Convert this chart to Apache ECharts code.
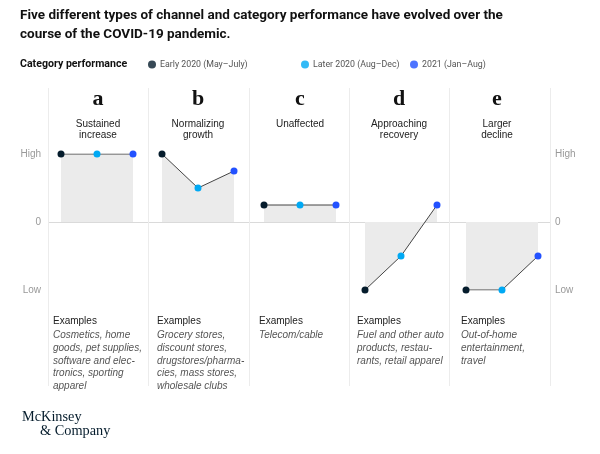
<!DOCTYPE html>
<html><head><meta charset="utf-8">
<script src="https://cdn.jsdelivr.net/npm/echarts@6/dist/echarts.min.js"></script>
<style>html,body{margin:0;padding:0;background:#fff}#c{width:600px;height:454px}</style>
</head><body><div id="c"></div><script>
// ---- data ----
const titleText = 'Five different types of channel and category performance have evolved over the\ncourse of the COVID-19 pandemic.';
const legendTitle = 'Category performance';
const periods = ['Early 2020 (May–July)', 'Later 2020 (Aug–Dec)', '2021 (Jan–Aug)'];
const periodColors = ['#051c2c', '#00a9f4', '#2251ff'];
const panelLetters = ['a', 'b', 'c', 'd', 'e'];
const panelTitles = ['Sustained\nincrease', 'Normalizing\ngrowth', 'Unaffected', 'Approaching\nrecovery', 'Larger\ndecline'];
const valuesA = [1, 1, 1];
const valuesB = [1, 0.5, 0.75];
const valuesC = [0.25, 0.25, 0.25];
const valuesD = [-1, -0.5, 0.25];
const valuesE = [-1, -1, -0.5];
const panelValues = [valuesA, valuesB, valuesC, valuesD, valuesE];
const yTickLabels = { '-1': 'Low', '0': '0', '1': 'High' };
const examplesLabel = 'Examples';
const examplesText = [
  'Cosmetics, home\ngoods, pet supplies,\nsoftware and elec-\ntronics, sporting\napparel',
  'Grocery stores,\ndiscount stores,\ndrugstores/pharma-\ncies, mass stores,\nwholesale clubs',
  'Telecom/cable',
  'Fuel and other auto\nproducts, restau-\nrants, retail apparel',
  'Out-of-home\nentertainment,\ntravel'
];
const logoLines = ['McKinsey', '& Company'];

// ---- layout ----
const SANS = '"Liberation Sans", Arial, sans-serif';
const ROBO = 'Roboto, "Liberation Sans", sans-serif';
const SERIF = '"Liberation Serif", "DejaVu Serif", serif';
const plotL = 48, plotR = 550;
const zeroTop = 154, zeroBottom = 290; // High / Low rows
const pointStart = [61, 162, 264, 365, 466];
const headerX = [98, 198, 300, 399, 497];
const exampleX = [53, 157, 259, 357, 461];

const chart = echarts.init(document.getElementById('c'), null, { renderer: 'canvas' });

const grids = [
  { left: plotL, width: plotR - plotL, top: 88, height: 298 },
  { left: plotL, width: plotR - plotL, top: zeroTop, height: zeroBottom - zeroTop }
];
const xAxes = [
  { gridIndex: 0, type: 'value', min: 0, max: 5, interval: 1, show: true,
    axisLine: { show: false }, axisTick: { show: false }, axisLabel: { show: false },
    splitLine: { show: true, lineStyle: { color: '#ececec', width: 1 } } },
  { gridIndex: 1, type: 'value', min: 0, max: 1, show: false }
];
const yAxes = [
  { gridIndex: 0, type: 'value', min: 0, max: 1, show: false },
  { gridIndex: 1, type: 'value', min: -1, max: 1, interval: 1, position: 'left',
    axisLine: { show: false }, axisTick: { show: false },
    axisLabel: { margin: 7, color: '#999', fontSize: 10, fontFamily: SANS, formatter: v => yTickLabels[String(v)] },
    splitLine: { show: true, lineStyle: { color: ['rgba(0,0,0,0)', '#dadada', 'rgba(0,0,0,0)'], width: 1 } } },
  { gridIndex: 1, type: 'value', min: -1, max: 1, interval: 1, position: 'right',
    axisLine: { show: false }, axisTick: { show: false },
    axisLabel: { margin: 5, color: '#999', fontSize: 10, fontFamily: SANS, formatter: v => yTickLabels[String(v)] },
    splitLine: { show: false } }
];
const series = [];
periods.forEach((p, i) => {
  series.push({ name: p, type: 'scatter', xAxisIndex: 0, yAxisIndex: 0, data: [], itemStyle: { color: periodColors[i] } });
});
const graphic = [];
panelValues.forEach((vals, i) => {
  grids.push({ left: pointStart[i], width: 72, top: zeroTop, height: zeroBottom - zeroTop });
  xAxes.push({ gridIndex: i + 2, type: 'category', data: periods, boundaryGap: false, show: false });
  yAxes.push({ gridIndex: i + 2, type: 'value', min: -1, max: 1, show: false });
  series.push({
    type: 'line', xAxisIndex: i + 2, yAxisIndex: i + 3,
    data: vals.map((v, j) => ({ value: v, itemStyle: { color: periodColors[j] } })),
    symbol: 'circle', symbolSize: 7, showSymbol: true,
    lineStyle: { color: '#444', width: 1 },
    areaStyle: { color: '#ebebeb', opacity: 1, origin: 0 },
    z: 3
  });
  const cx = headerX[i];
  graphic.push({ type: 'text', style: { text: panelLetters[i], x: cx, y: 99, align: 'center', verticalAlign: 'middle', font: 'bold 22px ' + SERIF, fill: '#111' } });
  graphic.push({ type: 'text', style: { text: panelTitles[i], x: cx, y: 119, align: 'center', verticalAlign: 'top', font: '10px ' + SANS, lineHeight: 10.5, fill: '#222' } });
  graphic.push({ type: 'text', style: { text: examplesLabel, x: exampleX[i], y: 321.5, align: 'left', verticalAlign: 'middle', font: '10px ' + SANS, fill: '#222' } });
  graphic.push({ type: 'text', style: { text: examplesText[i], x: exampleX[i], y: 328.5, align: 'left', verticalAlign: 'top', font: 'italic 10px ' + SANS, lineHeight: 12.9, fill: '#555' } });
});
graphic.push({ type: 'text', style: { text: logoLines[0], x: 22, y: 417, align: 'left', verticalAlign: 'middle', font: '14.3px ' + SERIF, fill: '#051c2c' } });
graphic.push({ type: 'text', style: { text: logoLines[1], x: 40, y: 431, align: 'left', verticalAlign: 'middle', font: '14.3px ' + SERIF, fill: '#051c2c' } });
graphic.push({ type: 'text', style: { text: legendTitle, x: 20, y: 64, align: 'left', verticalAlign: 'middle', font: 'bold 10.6px ' + ROBO, fill: '#111' } });

const legendLefts = [148, 301, 410];
const legends = periods.map((p, i) => ({
  data: [p], left: legendLefts[i], top: 60, icon: 'circle', itemWidth: 8, itemHeight: 8, itemGap: 0,
  selectedMode: false, padding: 0,
  textStyle: { fontSize: 8.8, color: '#555', fontFamily: ROBO, padding: [0, 0, 0, -1] }
}));

chart.setOption({
  animation: false,
  title: { text: titleText, left: 20, top: 6.5, padding: 0,
    textStyle: { fontSize: 13.5, fontWeight: 'bold', color: '#111', fontFamily: ROBO, lineHeight: 18.6 } },
  legend: legends,
  grid: grids, xAxis: xAxes, yAxis: yAxes, series, graphic
});
</script></body></html>
